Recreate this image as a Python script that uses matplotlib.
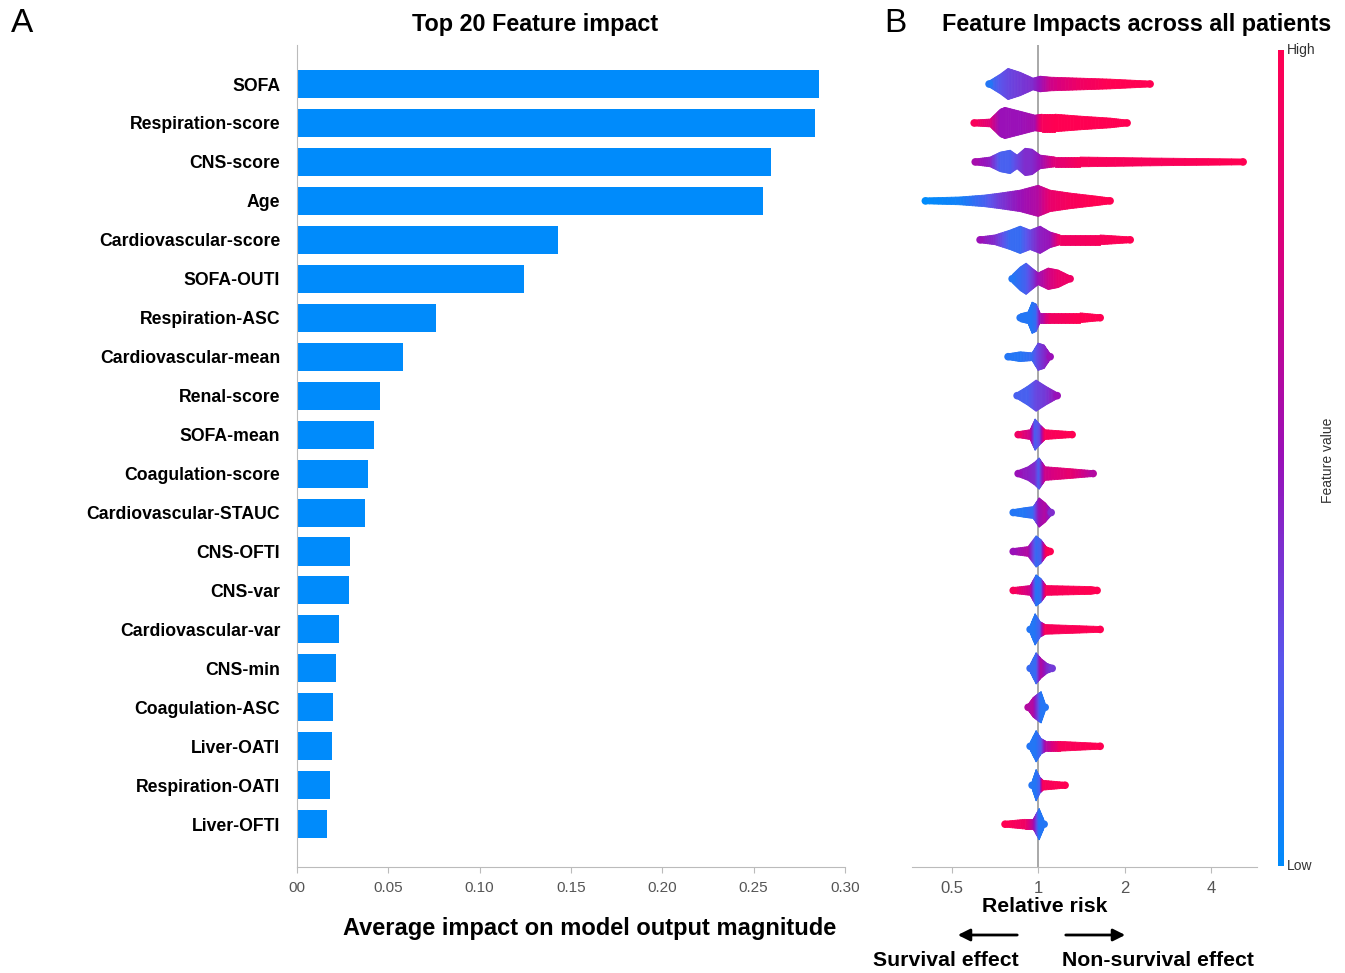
import numpy as np
import matplotlib
matplotlib.use("Agg")
import matplotlib.pyplot as plt
from matplotlib.colors import LinearSegmentedColormap, Normalize
from matplotlib.collections import PolyCollection
from matplotlib.colorbar import ColorbarBase

plt.rcParams['font.family'] = ['Liberation Sans', 'DejaVu Sans']

# ---- Panel A data: mean |impact| per feature ----
features = ['SOFA', 'Respiration-score', 'CNS-score', 'Age', 'Cardiovascular-score',
            'SOFA-OUTI', 'Respiration-ASC', 'Cardiovascular-mean', 'Renal-score', 'SOFA-mean',
            'Coagulation-score', 'Cardiovascular-STAUC', 'CNS-OFTI', 'CNS-var',
            'Cardiovascular-var', 'CNS-min', 'Coagulation-ASC', 'Liver-OATI',
            'Respiration-OATI', 'Liver-OFTI']
impact = [0.2857, 0.2836, 0.2594, 0.2550, 0.1431, 0.1245, 0.0762, 0.0581, 0.0455, 0.0422,
          0.0389, 0.0373, 0.0291, 0.0285, 0.0230, 0.0214, 0.0197, 0.0192, 0.0181, 0.0165]
xticks_a = [0.0, 0.05, 0.10, 0.15, 0.20, 0.25, 0.30]
xticklabels_a = ['00', '0.05', '0.10', '0.15', '0.20', '0.25', '0.30']

# ---- Panel B data: swarm outline per feature ----
# relative-risk knots, swarm half-width (arbitrary density units), feature value colour (0 low .. 1 high)
swarm_rr = [
    [0.675, 0.738, 0.786, 0.866, 0.961, 1.016, 1.101, 1.400, 1.780, 2.453],
    [0.599, 0.681, 0.738, 0.767, 0.866, 0.976, 1.032, 1.146, 1.400, 1.780, 2.040],
    [0.604, 0.681, 0.738, 0.799, 0.845, 0.901, 0.953, 1.016, 1.146, 1.400, 2.453, 5.17],
    [0.405, 0.535, 0.654, 0.738, 0.866, 1.000, 1.101, 1.292, 1.579, 1.780],
    [0.628, 0.708, 0.799, 0.866, 0.938, 1.016, 1.101, 1.193, 1.644, 2.091],
    [0.812, 0.866, 0.908, 0.961, 1.000, 1.084, 1.174, 1.292],
    [0.866, 0.923, 0.953, 0.984, 1.016, 1.101, 1.400, 1.644],
    [0.786, 0.866, 0.953, 1.000, 1.049, 1.101],
    [0.845, 0.923, 0.984, 1.058, 1.165],
    [0.852, 0.938, 0.976, 1.016, 1.058, 1.313],
    [0.852, 0.923, 0.976, 1.008, 1.058, 1.292, 1.554],
    [0.819, 0.901, 0.961, 1.008, 1.058, 1.110],
    [0.819, 0.923, 0.984, 1.024, 1.066, 1.101],
    [0.819, 0.938, 0.984, 1.024, 1.066, 1.517, 1.604],
    [0.938, 0.976, 1.016, 1.058, 1.644],
    [0.938, 0.984, 1.024, 1.075, 1.119],
    [0.923, 0.961, 1.000, 1.024, 1.058],
    [0.938, 0.984, 1.024, 1.066, 1.193, 1.644],
    [0.953, 0.984, 1.016, 1.041, 1.241],
    [0.767, 0.901, 0.961, 1.008, 1.049],
]
swarm_width = [
    [3, 10, 16, 12, 6, 8, 7, 6, 5, 3],
    [3, 4, 14, 16, 12, 8, 9, 9, 7, 5, 3],
    [3, 5, 10, 12, 7, 14, 13, 7, 5, 5, 4, 3],
    [3, 4, 6, 8, 11, 16, 11, 8, 5, 3],
    [3, 5, 10, 14, 10, 14, 8, 5, 5, 3],
    [4, 12, 16, 10, 6, 11, 9, 3],
    [4, 6, 16, 14, 5, 5, 5, 3],
    [3, 5, 4, 14, 12, 3],
    [3, 10, 16, 10, 3],
    [3, 5, 16, 10, 5, 3],
    [3, 7, 12, 16, 7, 5, 3],
    [3, 5, 6, 15, 10, 3],
    [3, 5, 16, 12, 5, 3],
    [3, 5, 16, 12, 5, 4, 3],
    [4, 16, 8, 5, 3],
    [4, 16, 10, 5, 3],
    [3, 10, 14, 16, 4],
    [4, 16, 8, 5, 5, 3],
    [4, 16, 8, 5, 3],
    [3, 5, 5, 16, 4],
]
swarm_value = [
    [0.10, 0.25, 0.30, 0.35, 0.40, 0.50, 0.70, 0.90, 1.00, 1.00],
    [0.95, 0.80, 0.50, 0.50, 0.50, 0.55, 0.95, 1.00, 1.00, 1.00, 1.00],
    [0.55, 0.45, 0.20, 0.20, 0.30, 0.40, 0.40, 0.50, 0.80, 0.95, 0.95, 1.00],
    [0.00, 0.05, 0.20, 0.35, 0.50, 0.60, 0.85, 0.95, 1.00, 1.00],
    [0.50, 0.40, 0.15, 0.15, 0.30, 0.45, 0.50, 0.90, 0.95, 1.00],
    [0.10, 0.15, 0.20, 0.35, 0.50, 0.70, 0.85, 0.90],
    [0.10, 0.10, 0.10, 0.15, 0.50, 0.90, 1.00, 1.00],
    [0.10, 0.10, 0.15, 0.30, 0.40, 0.50],
    [0.20, 0.20, 0.30, 0.35, 0.50],
    [0.90, 0.70, 0.20, 0.30, 0.95, 1.00],
    [0.50, 0.45, 0.40, 0.20, 0.70, 0.85, 0.60],
    [0.10, 0.10, 0.15, 0.50, 0.60, 0.40],
    [0.50, 0.60, 0.15, 0.20, 0.95, 1.00],
    [0.95, 0.70, 0.10, 0.15, 0.95, 1.00, 1.00],
    [0.10, 0.10, 0.20, 0.95, 1.00],
    [0.15, 0.15, 0.60, 0.40, 0.35],
    [0.60, 0.60, 0.30, 0.10, 0.10],
    [0.10, 0.10, 0.20, 0.60, 0.95, 1.00],
    [0.10, 0.10, 0.20, 0.95, 1.00],
    [1.00, 0.90, 0.60, 0.10, 0.10],
]
xticks_b = [0.5, 1, 2, 4]

bar_color = '#008bfb'
cmap = LinearSegmentedColormap.from_list(
    'shap_like', ['#008bfb', '#5a55ec', '#9a10b8', '#d8007f', '#ff0052'])
grey = '#555555'
spine_grey = '#bbbbbb'

W, H = 1345, 973
fig = plt.figure(figsize=(13.45, 9.73), dpi=100)
ax1 = fig.add_axes([0.2208, 0.1089, 0.4074, 0.8448])
ax2 = fig.add_axes([0.6781, 0.1089, 0.2565, 0.8448])
cax = fig.add_axes([0.9502, 0.110, 0.0045, 0.8387])

ypos = np.arange(len(features))

# ---- Panel A ----
ax1.barh(ypos, impact, height=0.72, color=bar_color)
ax1.set_ylim(20.1, -1.0)
ax1.set_xlim(0, 0.30)
ax1.set_yticks(ypos)
ax1.set_yticklabels(features, fontsize=12.7, fontweight='bold')
ax1.tick_params(axis='y', length=0, pad=12)
ax1.set_xticks(xticks_a)
ax1.set_xticklabels(xticklabels_a, fontsize=11, color=grey)
ax1.tick_params(axis='x', length=4, color=spine_grey, pad=6)
for s in ['top', 'right']:
    ax1.spines[s].set_visible(False)
for s in ['left', 'bottom']:
    ax1.spines[s].set_color(spine_grey)

fig.text(535 / W, 1 - 25 / H, 'Top 20 Feature impact', fontsize=16.8, fontweight='bold',
         ha='center', va='center')
fig.text(590 / W, 1 - 929 / H, 'Average impact on model output magnitude', fontsize=17,
         fontweight='bold', ha='center', va='center')

# ---- Panel B ----
ax2.set_xscale('log', base=2)
ax2.set_xlim(0.364, 5.78)
ax2.set_ylim(20.1, -1.0)
ax2.axvline(1, color='#999999', lw=1.2, zorder=1)

scale = 1 / 40.0
polys, cols = [], []
for i in range(len(features)):
    lx = np.log2(swarm_rr[i])
    w = np.array(swarm_width[i]) * scale
    c = np.array(swarm_value[i])
    for k in range(len(lx) - 1):
        # split each segment into slices so the colour blends smoothly
        n = 8
        t = np.linspace(0, 1, n + 1)
        xs = 2 ** (lx[k] + (lx[k + 1] - lx[k]) * t)
        ws = w[k] + (w[k + 1] - w[k]) * t
        cs = c[k] + (c[k + 1] - c[k]) * t
        for j in range(n):
            polys.append([(xs[j], i - ws[j]), (xs[j + 1], i - ws[j + 1]),
                          (xs[j + 1], i + ws[j + 1]), (xs[j], i + ws[j])])
            cols.append(cmap(0.5 * (cs[j] + cs[j + 1])))
pc = PolyCollection(polys, facecolors=cols, edgecolors=cols, linewidths=0.6, zorder=2)
ax2.add_collection(pc)
# rounded ends of each swarm
for i in range(len(features)):
    ax2.scatter([swarm_rr[i][0], swarm_rr[i][-1]], [i, i], s=30,
                c=[cmap(swarm_value[i][0]), cmap(swarm_value[i][-1])], zorder=3, linewidths=0)

ax2.set_xticks(xticks_b)
ax2.set_xticklabels(['0.5', '1', '2', '4'], fontsize=12, color=grey)
ax2.minorticks_off()
ax2.tick_params(axis='x', length=4, color=spine_grey, pad=6)
ax2.set_yticks([])
for s in ['top', 'right', 'left']:
    ax2.spines[s].set_visible(False)
ax2.spines['bottom'].set_color(spine_grey)

fig.text(1137 / W, 1 - 25 / H, 'Feature Impacts across all patients', fontsize=16.8,
         fontweight='bold', ha='center', va='center')
fig.text(1045 / W, 1 - 907 / H, 'Relative risk', fontsize=15.3, fontweight='bold',
         ha='center', va='center')

# colour bar
cb = ColorbarBase(cax, cmap=cmap, norm=Normalize(0, 1), orientation='vertical')
cb.outline.set_visible(False)
cb.set_ticks([])
cax.text(1.5, 1.0, 'High', transform=cax.transAxes, fontsize=10, color='#333333',
         ha='left', va='center')
cax.text(1.5, 0.0, 'Low', transform=cax.transAxes, fontsize=10, color='#333333',
         ha='left', va='center')
fig.text(1328 / W, 1 - 460 / H, 'Feature value', rotation=90, fontsize=10, color='#333333',
         ha='center', va='center')

# effect arrows
arrow_y = 1 - 935 / H
ax2.annotate('', xy=(955 / W, arrow_y), xytext=(1020 / W, arrow_y),
             xycoords='figure fraction', textcoords='figure fraction', annotation_clip=False,
             arrowprops=dict(arrowstyle='-|>', color='black', lw=2, mutation_scale=18))
ax2.annotate('', xy=(1128 / W, arrow_y), xytext=(1063 / W, arrow_y),
             xycoords='figure fraction', textcoords='figure fraction', annotation_clip=False,
             arrowprops=dict(arrowstyle='-|>', color='black', lw=2, mutation_scale=18))
fig.text(946 / W, 1 - 960 / H, 'Survival effect', fontsize=15.3, fontweight='bold',
         ha='center', va='center')
fig.text(1158 / W, 1 - 960 / H, 'Non-survival effect', fontsize=15.3, fontweight='bold',
         ha='center', va='center')

# panel letters
fig.text(22 / W, 1 - 24 / H, 'A', fontsize=24, ha='center', va='center')
fig.text(895 / W, 1 - 24 / H, 'B', fontsize=24, ha='center', va='center')

fig.savefig('out.png', dpi=100)
